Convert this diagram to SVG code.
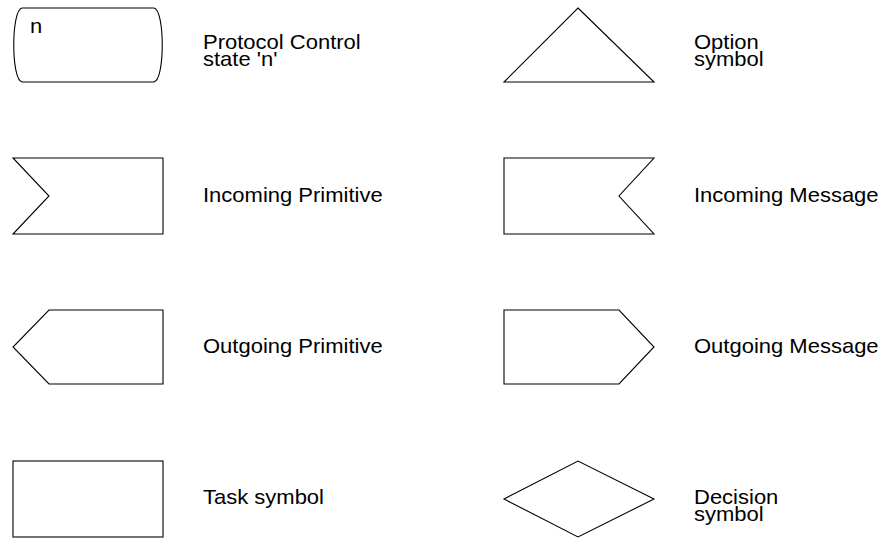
<svg xmlns="http://www.w3.org/2000/svg" width="886" height="539" viewBox="0 0 886 539">
<style>
.s{fill:#fff;stroke:#000;stroke-width:1.1}
text{font-family:"Liberation Sans",Arial,sans-serif;font-size:20px;fill:#000}
</style>
<rect width="886" height="539" fill="#fff"/>
<g id="state">
<path class="s" d="M22,8 H154 C165,10 165,80 154,82 H22 C11,80 11,10 22,8 Z"/>
<text transform="matrix(1.1,0,0,1,30,33)">n</text>
</g>
<g id="state-label"><text transform="matrix(1.1,0,0,1,203,49)">Protocol Control</text><text transform="matrix(1.1,0,0,1,203,66)">state 'n'</text></g>
<g id="option">
<polygon class="s" points="578,8 654,82 504,82"/>
</g>
<g id="option-label"><text transform="matrix(1.1,0,0,1,694,49)">Option</text><text transform="matrix(1.1,0,0,1,694,66)">symbol</text></g>
<g id="in-prim">
<polygon class="s" points="13,158 163,158 163,234 13,234 49,196"/>
</g>
<g id="in-prim-label"><text transform="matrix(1.1,0,0,1,203,202)">Incoming Primitive</text></g>
<g id="in-msg">
<polygon class="s" points="504,158 654,158 619,196 654,234 504,234"/>
</g>
<g id="in-msg-label"><text transform="matrix(1.1,0,0,1,694,202)">Incoming Message</text></g>
<g id="out-prim">
<polygon class="s" points="49,310 163,310 163,384 49,384 13,347"/>
</g>
<g id="out-prim-label"><text transform="matrix(1.1,0,0,1,203,353)">Outgoing Primitive</text></g>
<g id="out-msg">
<polygon class="s" points="504,310 619,310 654,347 619,384 504,384"/>
</g>
<g id="out-msg-label"><text transform="matrix(1.1,0,0,1,694,353)">Outgoing Message</text></g>
<g id="task">
<rect class="s" x="13" y="461" width="150" height="76"/>
</g>
<g id="task-label"><text transform="matrix(1.1,0,0,1,203,504)">Task symbol</text></g>
<g id="decision">
<polygon class="s" points="504,499 578,461 654,499 578,537"/>
</g>
<g id="decision-label"><text transform="matrix(1.1,0,0,1,694,504)">Decision</text><text transform="matrix(1.1,0,0,1,694,521)">symbol</text></g>
<g id="connectors"/>
</svg>
